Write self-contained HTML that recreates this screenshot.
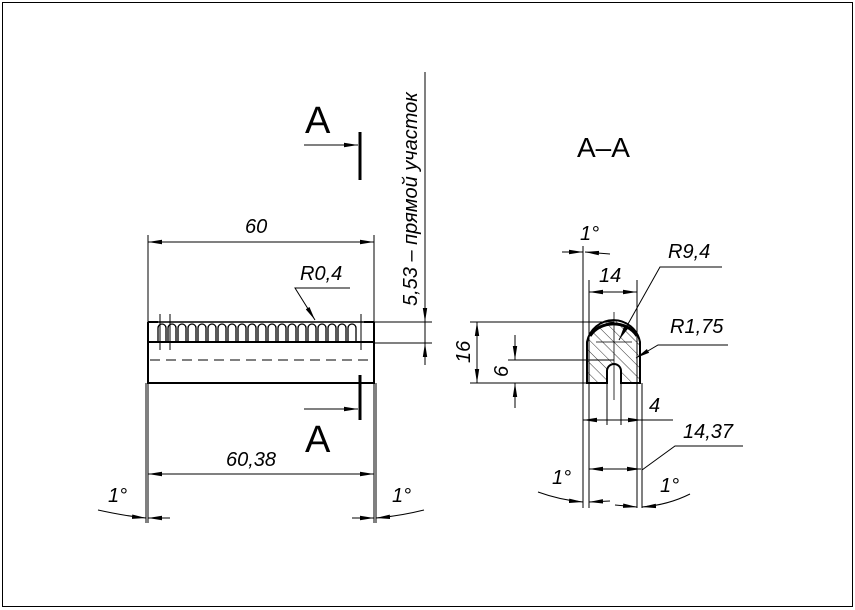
<!DOCTYPE html>
<html><head><meta charset="utf-8"><style>
html,body{margin:0;padding:0;background:#fff;}
svg{display:block}
text{font-family:"Liberation Sans","DejaVu Sans",sans-serif;font-style:italic;fill:#000}
</style></head><body>
<svg width="855" height="610" viewBox="0 0 855 610" xmlns="http://www.w3.org/2000/svg">
<defs>
<marker id="a" viewBox="0 0 14 6" refX="14" refY="3" markerWidth="14" markerHeight="6" orient="auto-start-reverse" markerUnits="userSpaceOnUse"><path d="M0,0.8 L14,3 L0,5.2 Z" fill="#000"/></marker>
<pattern id="h" width="8" height="8" patternUnits="userSpaceOnUse" patternTransform="rotate(-45)"><line x1="0" y1="0" x2="0" y2="8" stroke="#000" stroke-width="0.8"/></pattern>
</defs>
<rect x="2.5" y="2.5" width="850" height="604" fill="none" stroke="#000" stroke-width="1"/>
<g stroke="#000" fill="none" stroke-width="1">
<!-- left view -->
<rect x="148" y="342" width="226" height="41" stroke-width="2"/>
<line x1="148" y1="322" x2="148" y2="342" stroke-width="2"/>
<line x1="374" y1="322" x2="374" y2="342" stroke-width="2"/>
<line x1="148" y1="322" x2="158" y2="322" stroke-width="2"/>
<line x1="364" y1="322" x2="374" y2="322" stroke-width="2"/>
<path d="M158,342 V328 a4,4 0 0 1 8,0 V342 M168,342 V328 a4,4 0 0 1 8,0 V342 M178,342 V328 a4,4 0 0 1 8,0 V342 M188,342 V328 a4,4 0 0 1 8,0 V342 M198,342 V328 a4,4 0 0 1 8,0 V342 M208,342 V328 a4,4 0 0 1 8,0 V342 M218,342 V328 a4,4 0 0 1 8,0 V342 M228,342 V328 a4,4 0 0 1 8,0 V342 M238,342 V328 a4,4 0 0 1 8,0 V342 M248,342 V328 a4,4 0 0 1 8,0 V342 M258,342 V328 a4,4 0 0 1 8,0 V342 M268,342 V328 a4,4 0 0 1 8,0 V342 M278,342 V328 a4,4 0 0 1 8,0 V342 M288,342 V328 a4,4 0 0 1 8,0 V342 M298,342 V328 a4,4 0 0 1 8,0 V342 M308,342 V328 a4,4 0 0 1 8,0 V342 M318,342 V328 a4,4 0 0 1 8,0 V342 M328,342 V328 a4,4 0 0 1 8,0 V342 M338,342 V328 a4,4 0 0 1 8,0 V342 M348,342 V328 a4,4 0 0 1 8,0 V342" stroke-width="1.3"/>
<line x1="155" y1="322" x2="367" y2="322" stroke-width="1.5"/>
<line x1="160" y1="314" x2="160" y2="350"/><line x1="170" y1="314" x2="170" y2="350"/><line x1="361" y1="314" x2="361" y2="350"/>
<line x1="150" y1="360" x2="372" y2="360" stroke-dasharray="10,6"/>
<line x1="148" y1="235" x2="148" y2="523"/><line x1="146" y1="383" x2="146" y2="523"/>
<line x1="374" y1="235" x2="374" y2="523"/><line x1="376" y1="383" x2="376" y2="523"/>
<line x1="148" y1="242" x2="374" y2="242" marker-start="url(#a)" marker-end="url(#a)"/>
<line x1="148" y1="474" x2="374" y2="474" marker-start="url(#a)" marker-end="url(#a)"/>
<path d="M98,510 Q125,516 146,518" marker-end="url(#a)"/><line x1="170" y1="518" x2="148" y2="518" marker-end="url(#a)"/>
<path d="M424,510 Q400,516 376,518" marker-end="url(#a)"/><line x1="352" y1="518" x2="374" y2="518" marker-end="url(#a)"/>
<!-- R0,4 -->
<polyline points="350,288 295,288 315,320" marker-end="url(#a)"/>
<!-- section marks -->
<line x1="304" y1="145" x2="358" y2="145" marker-end="url(#a)"/>
<line x1="360" y1="132" x2="360" y2="180" stroke-width="3"/>
<line x1="304" y1="409" x2="358" y2="409" marker-end="url(#a)"/>
<line x1="360" y1="375" x2="360" y2="420" stroke-width="3"/>
<!-- 5,53 -->
<line x1="425" y1="72" x2="425" y2="365"/>
<line x1="374" y1="322" x2="432" y2="322"/><line x1="374" y1="343" x2="432" y2="343"/>
<line x1="425" y1="300" x2="425" y2="322" marker-end="url(#a)"/>
<line x1="425" y1="365" x2="425" y2="343" marker-end="url(#a)"/>
<!-- section A-A -->
<path d="M587,383 V342 A27,27 0 0 1 640,342 V383 H621 V371 A7,7 0 0 0 607,371 V383 Z" fill="url(#h)" stroke-width="2"/>
<path d="M590,336 A27,24 0 0 1 637,336" stroke-width="3"/>
<line x1="614" y1="312" x2="614" y2="400" stroke-width="0.8"/>
<line x1="596" y1="342" x2="632" y2="342" stroke-width="0.8"/>
<line x1="470" y1="322" x2="614" y2="322"/><line x1="508" y1="360" x2="614" y2="360"/><line x1="470" y1="383" x2="587" y2="383"/>
<line x1="477" y1="322" x2="477" y2="383" marker-start="url(#a)" marker-end="url(#a)"/>
<line x1="515" y1="335" x2="515" y2="360" marker-end="url(#a)"/>
<line x1="515" y1="408" x2="515" y2="383" marker-end="url(#a)"/>
<line x1="583" y1="246" x2="583" y2="508"/><line x1="589" y1="280" x2="589" y2="508"/>
<line x1="637" y1="280" x2="637" y2="508"/><line x1="642" y1="383" x2="642" y2="508"/>
<line x1="607" y1="383" x2="607" y2="425"/><line x1="621" y1="383" x2="621" y2="425"/>
<line x1="589" y1="292" x2="637" y2="292" marker-start="url(#a)" marker-end="url(#a)"/>
<line x1="562" y1="252" x2="583" y2="252" marker-end="url(#a)"/><line x1="610" y1="254" x2="585" y2="252" marker-end="url(#a)"/>
<line x1="583" y1="420" x2="673" y2="420"/>
<line x1="600" y1="420" x2="583" y2="420" marker-end="url(#a)"/><line x1="624" y1="420" x2="642" y2="420" marker-end="url(#a)"/>
<line x1="589" y1="469" x2="641" y2="469" marker-start="url(#a)" marker-end="url(#a)"/>
<polyline points="743,446 675,446 642,470"/>
<path d="M538,492 Q560,500 583,502" marker-end="url(#a)"/><line x1="610" y1="501" x2="589" y2="502" marker-end="url(#a)"/>
<path d="M690,494 Q668,505 642,507" marker-end="url(#a)"/><line x1="615" y1="505" x2="637" y2="507" marker-end="url(#a)"/>
<polyline points="722,267 660,267 619,340" marker-end="url(#a)"/>
<polyline points="728,345 658,345 636,358" marker-end="url(#a)"/>
</g>
<g font-size="20">
<text x="245" y="233">60</text>
<text x="226" y="466">60,38</text>
<text x="108" y="502">1°</text>
<text x="392" y="502">1°</text>
<text x="300" y="280">R0,4</text>
<text x="580" y="240">1°</text>
<text x="599" y="282">14</text>
<text x="668" y="258">R9,4</text>
<text x="670" y="333">R1,75</text>
<text x="649" y="412">4</text>
<text x="683" y="438">14,37</text>
<text x="552" y="484">1°</text>
<text x="660" y="492">1°</text>
<text transform="translate(470,363) rotate(-90)">16</text>
<text transform="translate(508,377) rotate(-90)">6</text>
<text transform="translate(417,306) rotate(-90)">5,53 – прямой участок</text>
</g>
<text x="305" y="133" font-size="38" style="font-style:normal">A</text>
<text x="305" y="452" font-size="38" style="font-style:normal">A</text>
<text x="577" y="157" font-size="28" style="font-style:normal">A–A</text>
</svg>
</body></html>
